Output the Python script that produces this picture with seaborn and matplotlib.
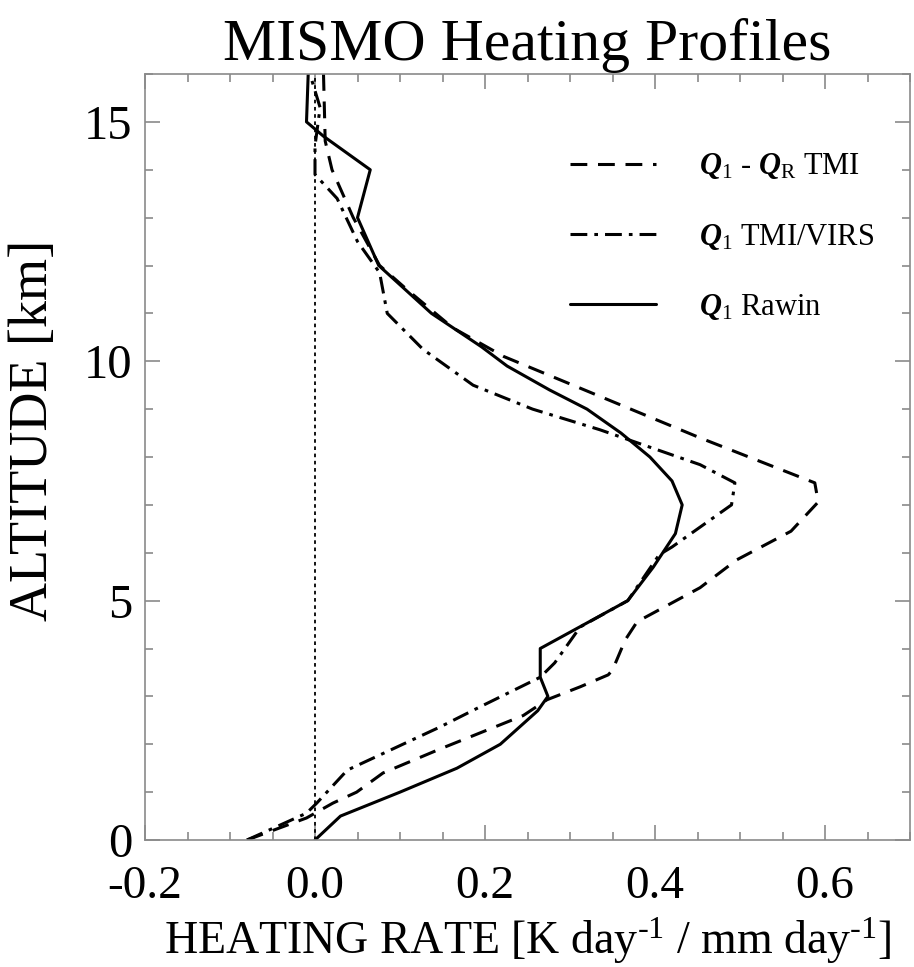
import matplotlib
matplotlib.use("Agg")
import matplotlib.pyplot as plt
from matplotlib.lines import Line2D
from matplotlib.ticker import MultipleLocator
import seaborn as sns
import pandas as pd

# ---- data ----
rawin_alt = [0.0, 0.5, 1.0, 1.5, 2.0, 2.7, 3.0, 3.4, 4.0, 5.0, 5.7, 6.4, 7.0, 7.5, 8.0,
             8.5, 9.0, 9.4, 9.9, 10.3, 11.0, 12.0, 13.0, 14.0, 14.7, 15.0, 16.0]
rawin_val = [0.0, 0.03, 0.10, 0.167, 0.218, 0.262, 0.274, 0.265, 0.265, 0.368, 0.398, 0.424,
             0.432, 0.42, 0.394, 0.36, 0.32, 0.276, 0.226, 0.196, 0.137, 0.075, 0.05, 0.065,
             0.01, -0.01, -0.008]

tmi_alt = [0.0, 0.46, 0.77, 1.0, 1.4, 1.9, 2.6, 2.93, 3.2, 3.45, 3.55, 4.18, 4.56, 5.27, 5.85,
           6.45, 7.06, 7.46, 8.4, 10.1, 10.7, 11.5, 12.0, 13.0, 14.0, 14.6, 16.0]
tmi_val = [-0.08, -0.01, 0.021, 0.049, 0.08, 0.147, 0.245, 0.273, 0.312, 0.345, 0.35, 0.365,
           0.379, 0.453, 0.496, 0.56, 0.592, 0.588, 0.453, 0.222, 0.162, 0.108, 0.076, 0.045,
           0.02, 0.012, 0.01]

virs_alt = [0.0, 0.56, 0.77, 1.46, 2.36, 2.78, 3.4, 3.7, 4.45, 5.0, 5.96, 6.12, 7.0, 7.46,
            7.84, 8.57, 9.0, 9.5, 10.25, 11.0, 11.85, 12.5, 13.4, 13.9, 14.5, 15.3, 16.0]
virs_val = [-0.08, -0.01, 0.002, 0.038, 0.147, 0.194, 0.265, 0.282, 0.312, 0.368, 0.405, 0.42,
            0.49, 0.494, 0.453, 0.335, 0.256, 0.186, 0.127, 0.085, 0.076, 0.05, 0.026, 0.0,
            0.0, 0.006, -0.006]

labels = [r"$\mathbf{Q}_{1}$ - $\mathbf{Q}_{\mathrm{R}}$ TMI",
          r"$\mathbf{Q}_{1}$ TMI/VIRS",
          r"$\mathbf{Q}_{1}$ Rawin"]
x_ticks = [-0.2, 0.0, 0.2, 0.4, 0.6]
y_ticks = [0, 5, 10, 15]

# ---- style ----
sns.set_theme(style="white")
plt.rcParams["font.family"] = ["Liberation Serif", "DejaVu Serif"]
plt.rcParams["mathtext.fontset"] = "custom"
plt.rcParams["mathtext.rm"] = "Liberation Serif"
plt.rcParams["mathtext.it"] = "Liberation Serif:italic"
plt.rcParams["mathtext.bf"] = "Liberation Serif:bold:italic"
for k in ["text.color", "axes.labelcolor", "xtick.labelcolor", "ytick.labelcolor"]:
    plt.rcParams[k] = "black"

fig = plt.figure(figsize=(9.14, 9.67), dpi=100)
ax = fig.add_axes([145/914, 1-840/967, (910-145)/914, (840-74)/967])

DASH = (0, (5.5, 3.5))
DASHDOT = (0, (5.5, 2.3, 1.2, 2.3))
LW = 2.2

ax.axvline(0.0, color="black", lw=1.3, linestyle=(0, (2, 2)))

df_tmi = pd.DataFrame({"alt": tmi_alt, "val": tmi_val})
df_virs = pd.DataFrame({"alt": virs_alt, "val": virs_val})
df_raw = pd.DataFrame({"alt": rawin_alt, "val": rawin_val})

sns.lineplot(data=df_tmi, x="val", y="alt", sort=False, estimator=None, color="black",
             lw=LW, linestyle=DASH, ax=ax)
sns.lineplot(data=df_virs, x="val", y="alt", sort=False, estimator=None, color="black",
             lw=LW, linestyle=DASHDOT, ax=ax)
sns.lineplot(data=df_raw, x="val", y="alt", sort=False, estimator=None, color="black",
             lw=LW, linestyle="-", ax=ax)

ax.set_xlim(-0.2, 0.7)
ax.set_ylim(0, 16)
ax.xaxis.set_major_locator(MultipleLocator(0.2))
ax.xaxis.set_minor_locator(MultipleLocator(0.05))
ax.yaxis.set_major_locator(MultipleLocator(5))
ax.yaxis.set_minor_locator(MultipleLocator(1))
ax.set_xticks(x_ticks)
ax.set_xticklabels([f"{t:.1f}" for t in x_ticks])
ax.set_yticks(y_ticks)
ax.set_yticklabels([str(t) for t in y_ticks])

for s in ax.spines.values():
    s.set_color("#8a8a8a")
    s.set_linewidth(1.2)
ax.tick_params(which="both", direction="in", top=True, right=True, bottom=True, left=True,
               color="#8a8a8a", width=1.2)
ax.tick_params(which="major", length=11)
ax.tick_params(which="minor", length=5.5)
ax.tick_params(axis="x", which="major", labelsize=34, pad=18)
ax.tick_params(axis="y", which="major", labelsize=35, pad=9)

ax.set_xlabel(r"HEATING RATE [K day$^{\text{-1}}$ / mm day$^{\text{-1}}$]",
              fontsize=33, labelpad=6)
ax.set_ylabel("ALTITUDE [km]", fontsize=39)
ax.yaxis.set_label_coords(-0.112, 0.535)
ax.set_title("MISMO Heating Profiles", fontsize=43, pad=10)

handles = [Line2D([], [], color="black", lw=LW, linestyle=DASH),
           Line2D([], [], color="black", lw=LW, linestyle=DASHDOT),
           Line2D([], [], color="black", lw=LW, linestyle="-")]
ax.legend(handles, labels, loc="upper left", bbox_to_anchor=(0.52, 0.935), frameon=False,
          fontsize=22, handlelength=2.8, handletextpad=1.4, labelspacing=1.32)

fig.savefig("out.png", dpi=100)
